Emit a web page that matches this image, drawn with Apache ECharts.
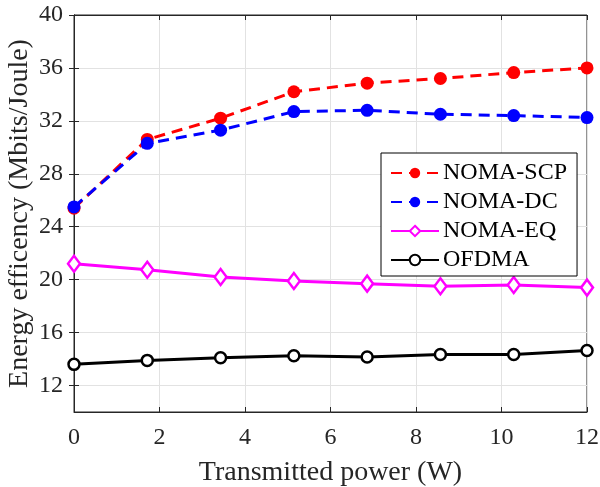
<!DOCTYPE html>
<html>
<head>
<meta charset="utf-8">
<script src="https://cdn.jsdelivr.net/npm/echarts@6/dist/echarts.min.js"></script>
<style>
  html, body { margin: 0; padding: 0; background: #fff; }
  #chart { width: 600px; height: 487px; }
</style>
</head>
<body>
<div id="chart"></div>
<script>
// transmitted power (W)
var power = [0, 1.714, 3.429, 5.143, 6.857, 8.571, 10.286, 12];
// energy efficiency (Mbits/Joule)
var nomaScp = [25.4, 30.6, 32.2, 34.2, 34.85, 35.2, 35.65, 36.0];
var nomaDc = [25.5, 30.3, 31.3, 32.7, 32.8, 32.5, 32.4, 32.25];
var nomaEq = [21.2, 20.75, 20.2, 19.9, 19.7, 19.5, 19.6, 19.4];
var ofdma = [13.6, 13.9, 14.1, 14.25, 14.15, 14.35, 14.35, 14.65];
var yTicks = [12, 16, 20, 24, 28, 32, 36, 40];

var font = 'Liberation Serif';
var axisColor = '#262626';
var gridColor = '#e2e2e2';

function pairs(ys) {
  return ys.map(function (y, i) { return [power[i], y]; });
}

var chart = echarts.init(document.getElementById('chart'));

var option = {
  backgroundColor: '#fff',
  animation: false,
  grid: {
    left: 74, right: 13, top: 15, bottom: 75,
    outerBoundsMode: 'none', containLabel: false,
    show: true, borderColor: axisColor, borderWidth: 1
  },
  legend: {
    orient: 'vertical',
    left: 381, top: 153,
    padding: [8, 10, 4, 9],
    itemGap: 5,
    itemWidth: 48,
    itemHeight: 13,
    backgroundColor: '#fff',
    borderColor: '#000',
    borderWidth: 1,
    borderRadius: 0,
    textStyle: { fontFamily: font, fontSize: 24, color: '#000', padding: [0, 0, 0, -1] },
    data: ['NOMA-SCP', 'NOMA-DC', 'NOMA-EQ', 'OFDMA']
  },
  xAxis: [{
    type: 'value', min: 0, max: 12, interval: 2,
    name: 'Transmitted power (W)', nameLocation: 'middle', nameGap: 47,
    nameMoveOverlap: false,
    nameTextStyle: { fontFamily: font, fontSize: 28, color: axisColor },
    axisLine: { show: true, onZero: false, lineStyle: { color: axisColor } },
    axisTick: { show: true, inside: true, length: 5, lineStyle: { color: axisColor } },
    axisLabel: { fontFamily: font, fontSize: 24, color: axisColor, margin: 14 },
    splitLine: { show: true, lineStyle: { color: gridColor } }
  }, {
    type: 'value', min: 0, max: 12, interval: 2, position: 'top',
    axisLine: { show: true, lineStyle: { color: axisColor } },
    axisTick: { show: true, inside: true, length: 5, lineStyle: { color: axisColor } },
    axisLabel: { show: false },
    splitLine: { show: false }
  }],
  yAxis: [{
    type: 'value', min: 10, max: 40,
    name: 'Energy efficency (Mbits/Joule)', nameLocation: 'middle', nameGap: 40,
    nameMoveOverlap: false,
    nameTextStyle: { fontFamily: font, fontSize: 28, color: axisColor },
    axisLine: { show: true, onZero: false, lineStyle: { color: axisColor } },
    axisTick: { show: true, inside: true, length: 5, customValues: yTicks, lineStyle: { color: axisColor } },
    axisLabel: { fontFamily: font, fontSize: 24, color: axisColor, margin: 11, customValues: yTicks },
    splitLine: { show: true, lineStyle: { color: gridColor } }
  }, {
    type: 'value', min: 10, max: 40, position: 'right',
    axisLine: { show: true, lineStyle: { color: axisColor } },
    axisTick: { show: true, inside: true, length: 5, customValues: yTicks, lineStyle: { color: axisColor } },
    axisLabel: { show: false, customValues: yTicks },
    splitLine: { show: false }
  }],
  series: [{
    name: 'NOMA-SCP', type: 'line', data: pairs(nomaScp),
    symbol: 'circle', symbolSize: 13,
    lineStyle: { color: '#ff0000', width: 3, type: [11, 7] },
    itemStyle: { color: '#ff0000' }, z: 4
  }, {
    name: 'NOMA-DC', type: 'line', data: pairs(nomaDc),
    symbol: 'circle', symbolSize: 13,
    lineStyle: { color: '#0000ff', width: 3, type: [11, 7] },
    itemStyle: { color: '#0000ff' }, z: 5
  }, {
    name: 'NOMA-EQ', type: 'line', data: pairs(nomaEq),
    symbol: 'diamond', symbolSize: [12, 16], showAllSymbol: true,
    lineStyle: { color: '#ff00ff', width: 3 },
    itemStyle: { color: '#fff', borderColor: '#ff00ff', borderWidth: 2.5 }
  }, {
    name: 'OFDMA', type: 'line', data: pairs(ofdma),
    symbol: 'circle', symbolSize: 11,
    lineStyle: { color: '#000', width: 3 },
    itemStyle: { color: '#fff', borderColor: '#000', borderWidth: 2.5 }
  }]
};

chart.setOption(option);
</script>
</body>
</html>
